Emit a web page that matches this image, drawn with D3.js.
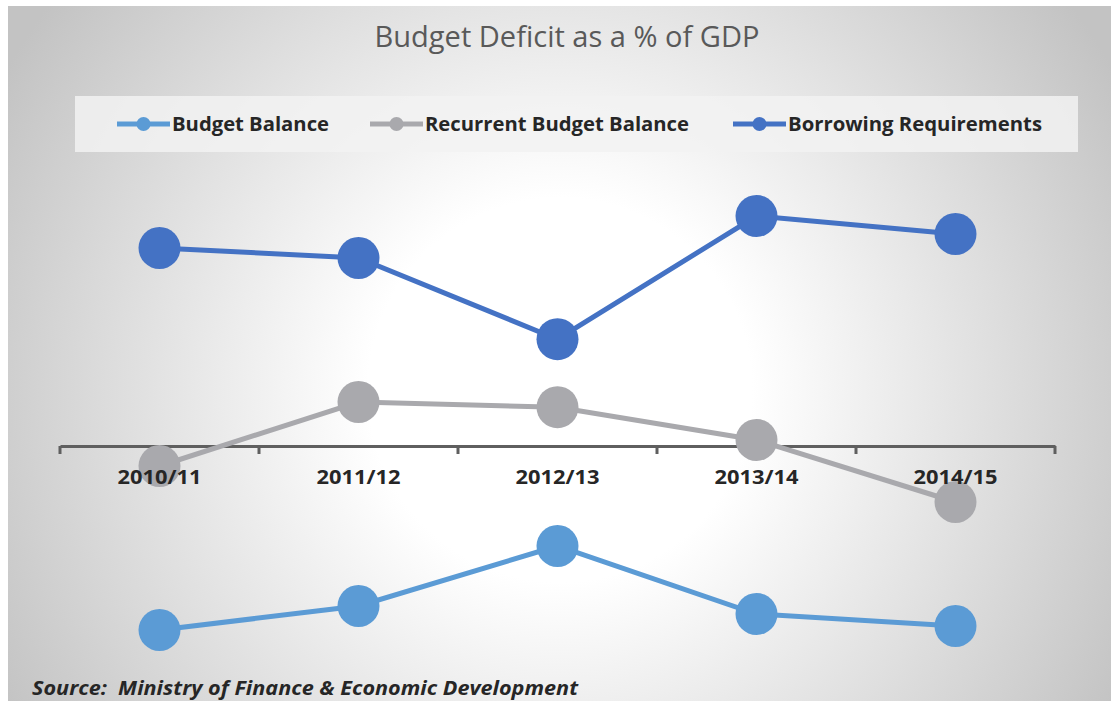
<!DOCTYPE html>
<html>
<head>
<meta charset="utf-8">
<script src="https://cdn.jsdelivr.net/npm/d3@7.9.0/dist/d3.min.js"></script>
<style>
  body { margin: 0; background: #fff; }
  svg { display: block; }
</style>
</head>
<body>
<svg id="chart" width="1111" height="701"></svg>
<script>
// years on the category axis
const years = ['2010/11', '2011/12', '2012/13', '2013/14', '2014/15'];
// % of GDP (no y axis is shown)
const budgetBalance = [-4.6, -4.0, -2.5, -4.2, -4.5];
const recurrentBalance = [-0.5, 1.1, 0.97, 0.15, -1.4];
const borrowingReq = [4.95, 4.7, 2.67, 5.75, 5.3];

const seriesNames = ['Budget Balance', 'Recurrent Budget Balance', 'Borrowing Requirements'];
const seriesValues = [budgetBalance, recurrentBalance, borrowingReq];
const colors = ['#5B9BD5', '#A9A9AD', '#4472C4'];

const svg = d3.select('#chart');

// background gradient
const defs = svg.append('defs');
const grad = defs.append('radialGradient')
  .attr('id', 'bg')
  .attr('gradientUnits', 'userSpaceOnUse')
  .attr('cx', 560).attr('cy', 390).attr('r', 640);
grad.append('stop').attr('offset', '0').attr('stop-color', '#ffffff');
grad.append('stop').attr('offset', '0.3').attr('stop-color', '#ffffff');
grad.append('stop').attr('offset', '1').attr('stop-color', '#c3c3c3');

svg.append('rect')
  .attr('x', 8).attr('y', 6)
  .attr('width', 1103).attr('height', 695)
  .attr('fill', 'url(#bg)');

// title
svg.append('text')
  .attr('x', 567).attr('y', 47)
  .attr('text-anchor', 'middle')
  .attr('font-family', 'Open Sans, sans-serif')
  .attr('font-weight', 400)
  .attr('font-size', 29)
  .attr('fill', '#595959')
  .attr('textLength', 385)
  .attr('lengthAdjust', 'spacingAndGlyphs')
  .text('Budget Deficit as a % of GDP');

// legend
svg.append('rect')
  .attr('x', 75).attr('y', 96)
  .attr('width', 1003).attr('height', 56)
  .attr('fill', '#f2f2f2')
  .attr('opacity', 0.85);

const legendX = [117, 370, 733];
const legendW = [157, 264, 254];
seriesNames.forEach((name, i) => {
  const g = svg.append('g').attr('transform', `translate(${legendX[i]},124)`);
  g.append('line')
    .attr('x1', 0).attr('x2', 53)
    .attr('stroke', colors[i]).attr('stroke-width', 5);
  g.append('circle')
    .attr('cx', 26.5).attr('r', 7)
    .attr('fill', colors[i]);
  g.append('text')
    .attr('x', 55).attr('y', 7)
    .attr('font-family', 'Open Sans, sans-serif')
    .attr('font-weight', 700)
    .attr('font-size', 20)
    .attr('fill', '#262626')
    .attr('textLength', legendW[i])
    .attr('lengthAdjust', 'spacingAndGlyphs')
    .text(name);
});

// scales
const x = d3.scaleBand().domain(years).range([60, 1055]);
const y = d3.scaleLinear().domain([-5, 6]).range([646, 206]);

// axis line with ticks on band edges
const axis = d3.axisBottom(x).tickSize(0).tickFormat('');
const axisG = svg.append('g').attr('transform', `translate(0,${y(0)})`).call(axis);
axisG.select('.domain').attr('stroke', '#5f5f5f').attr('stroke-width', 3);
const edges = years.map(d => x(d)).concat([x.range()[1]]);
axisG.selectAll('.edge')
  .data(edges)
  .join('line')
  .attr('x1', d => d).attr('x2', d => d)
  .attr('y1', 0).attr('y2', 8)
  .attr('stroke', '#5f5f5f').attr('stroke-width', 3);

// series
const line = d3.line()
  .x((d, i) => x(years[i]) + x.bandwidth() / 2)
  .y(d => y(d));

seriesValues.forEach((vals, s) => {
  svg.append('path')
    .datum(vals)
    .attr('d', line)
    .attr('fill', 'none')
    .attr('stroke', colors[s])
    .attr('stroke-width', 5);
  svg.append('g')
    .selectAll('circle')
    .data(vals)
    .join('circle')
    .attr('cx', (d, i) => x(years[i]) + x.bandwidth() / 2)
    .attr('cy', d => y(d))
    .attr('r', 21)
    .attr('fill', colors[s]);
});

// category labels on top
svg.append('g')
  .selectAll('text')
  .data(years)
  .join('text')
  .attr('x', d => x(d) + x.bandwidth() / 2)
  .attr('y', 484)
  .attr('text-anchor', 'middle')
  .attr('font-family', 'Open Sans, sans-serif')
  .attr('font-weight', 700)
  .attr('font-size', 19)
  .attr('fill', '#262626')
  .attr('textLength', 84)
  .attr('lengthAdjust', 'spacingAndGlyphs')
  .text(d => d);

// source note
svg.append('text')
  .attr('x', 32).attr('y', 695)
  .attr('font-family', 'Open Sans, sans-serif')
  .attr('font-weight', 700)
  .attr('font-style', 'italic')
  .attr('font-size', 19)
  .attr('fill', '#262626')
  .attr('textLength', 546)
  .attr('lengthAdjust', 'spacingAndGlyphs')
  .attr('xml:space', 'preserve')
  .text('Source:  Ministry of Finance & Economic Development');
</script>
</body>
</html>
